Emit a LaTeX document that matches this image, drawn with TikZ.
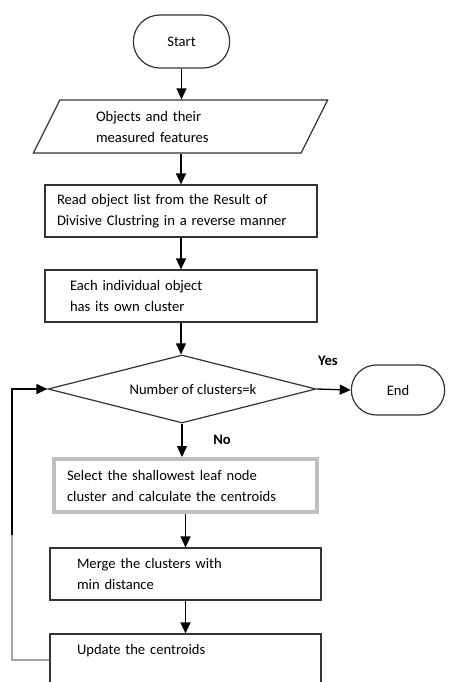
\documentclass[tikz,border=0pt]{standalone}
\usepackage{fontspec}
\setmainfont{Carlito}
\usetikzlibrary{arrows.meta, shapes.geometric, shapes.misc, positioning}

\begin{document}
\begin{tikzpicture}[
    x=1pt, y=-1pt,
    >={Triangle[length=11pt, width=10pt]},
    every node/.style={font=\fontsize{14.6}{21}\selectfont},
    termnode/.style={rounded rectangle, draw=black!80, line width=1.2pt, minimum height=53pt},
    ionode/.style={trapezium, trapezium left angle=63, trapezium right angle=117, trapezium stretches=true,
                   draw=black!80, line width=1.2pt, minimum width=295pt, minimum height=53pt, align=left, text width=169pt},
    procnode/.style={rectangle, draw=black!80, line width=1.2pt, minimum width=272pt, minimum height=52pt,
                     inner xsep=0pt, align=left},
    selnode/.style={procnode, draw=black!25, line width=4pt, minimum width=263pt, minimum height=53pt},
    decnode/.style={diamond, aspect=3.94, inner sep=0pt, draw=black!80, line width=1.2pt,
                    minimum width=268pt, minimum height=68pt},
    flow/.style={->, line width=1.3pt},
    backwire/.style={line width=2.5pt, draw=black!35},
    answer/.style={font=\fontsize{14.6}{21}\bfseries},
    ]
  \useasboundingbox (0,0) rectangle (449,682);

  \node[termnode, minimum width=103pt] (start) at (181.5, 41.5) {Start};
  \node[ionode] (objects) at (180.5, 126.5) {Objects and their\\measured features};
  \node[procnode, text width=248pt] (readlist) at (181, 211) {Read object list from the Result of\\Divisive Clustring in a reverse manner};
  \node[procnode, text width=222pt] (single) at (181, 296) {Each individual object\\has its own cluster};
  \node[decnode] (check) at (182, 389) {\hspace*{22pt}Number of clusters=k};
  \node[termnode, minimum width=100pt, minimum height=50pt] (stop) at (398, 390) {End};
  \node[selnode, text width=237pt] (select) at (185.5, 485.5) {Select the shallowest leaf node\\cluster and calculate the centroids};
  \node[procnode, minimum width=271pt, text width=217pt] (merge) at (185.5, 574) {Merge the clusters with\\min distance};
  \node[procnode, minimum width=271pt, text width=217pt] (update) at (185.5, 660) {Update the centroids\\\mbox{}};

  \draw[flow] (start.south) -- (start.south |- objects.north);
  \draw[flow] (objects.south -| readlist.north) -- (readlist.north);
  \draw[flow] (readlist) -- (single);
  \draw[flow] (single.south) -- (single.south |- check.north);
  \draw[flow] (check.east) -- (stop.west);
  \draw[flow] (check.south) -- (check.south |- select.north);
  \draw[flow] (select) -- (merge);
  \draw[flow] (merge) -- (update);

  % loop back to the test
  \coordinate (bend) at (12, 535);
  \draw[backwire] (update.west) -| (bend);
  \draw[flow, line width=1.2pt] (bend) |- (check.west);

  \node[answer] (yes) at (328, 361) {Yes};
  \node[answer] (no) at (222, 440) {No};
\end{tikzpicture}
\end{document}
